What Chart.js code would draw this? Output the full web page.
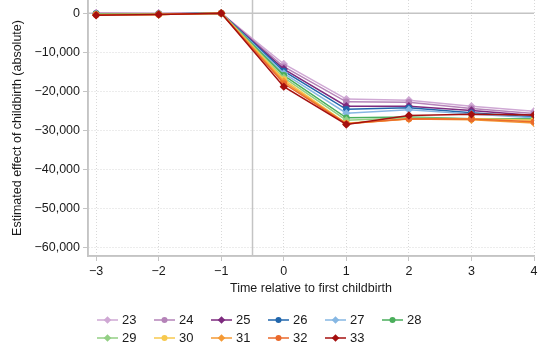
<!DOCTYPE html>
<html>
<head>
<meta charset="utf-8">
<script src="https://cdn.jsdelivr.net/npm/chart.js@4"></script>
<style>
  body { margin: 0; background: #fff; }
  #wrap { width: 538px; height: 349px; }
</style>
</head>
<body>
<div id="wrap"><canvas id="chart" width="538" height="349"></canvas></div>
<script>
// time relative to first childbirth
const times = [-3, -2, -1, 0, 1, 2, 3, 4];
const xTicks = [-3, -2, -1, 0, 1, 2, 3, 4];
const yTicks = [0, -10000, -20000, -30000, -40000, -50000, -60000];

// age at first birth
const ages = ['23', '24', '25', '26', '27', '28', '29', '30', '31', '32', '33'];

// estimated effect per age group
const age23 = [100, 0, 0, -13000, -22000, -22300, -23800, -25100];
const age24 = [0, -100, 0, -13700, -22700, -22800, -24400, -25700];
const age25 = [-100, -100, 0, -14300, -23800, -23800, -24900, -26200];
const age26 = [-100, -200, 0, -14800, -24600, -24200, -25500, -26600];
const age27 = [-200, -200, 0, -15400, -25600, -24700, -25800, -26800];
const age28 = [-200, -200, 0, -15900, -26800, -26600, -27000, -27000];
const age29 = [-300, -300, 0, -16500, -27400, -26800, -27100, -27200];
const age30 = [-300, -300, 0, -17000, -28200, -27000, -27000, -27400];
const age31 = [-400, -300, 0, -17500, -28300, -27100, -27300, -28100];
const age32 = [-400, -300, 0, -18000, -28300, -27000, -27100, -27800];
const age33 = [-500, -300, 0, -18800, -28500, -26200, -25900, -26100];
const series = [age23, age24, age25, age26, age27, age28, age29, age30, age31, age32, age33];

const colors = ['#cfa8d4', '#b583b8', '#7d2a7e', '#2166ac', '#86b7e3', '#4aae5b',
  '#93cf84', '#f7c94e', '#f59a35', '#ea6a2c', '#a5100f'];
const markers = ['rectRot', 'circle', 'rectRot', 'circle', 'rectRot', 'circle',
  'rectRot', 'circle', 'rectRot', 'circle', 'rectRot'];

const font = "'Liberation Sans', Arial, sans-serif";
const axisGrey = '#c4c4c4';

function fmt(v) {
  return v.toLocaleString('en-US').replace('-', '\u2212');
}

const datasets = ages.map((age, i) => ({
  label: age,
  data: times.map((t, j) => ({ x: t, y: series[i][j] })),
  borderColor: colors[i],
  backgroundColor: colors[i],
  borderWidth: 1.5,
  pointStyle: markers[i],
  pointRadius: markers[i] === 'circle' ? 3.3 : 4.2,
  pointBorderWidth: 0,
  order: ages.length - i
}));

// solid axis lines plus reference lines at y = 0 and x = -0.5
const refLines = {
  id: 'refLines',
  beforeDatasetsDraw(chart) {
    const { ctx, chartArea, scales } = chart;
    ctx.save();
    ctx.strokeStyle = axisGrey;
    ctx.lineWidth = 1.5;
    const y0 = scales.y.getPixelForValue(0);
    const xm = scales.x.getPixelForValue(-0.5);
    ctx.beginPath();
    ctx.moveTo(chartArea.left, y0);
    ctx.lineTo(chartArea.right, y0);
    ctx.moveTo(xm, chartArea.top);
    ctx.lineTo(xm, chartArea.bottom);
    ctx.moveTo(chartArea.left, chartArea.top);
    ctx.lineTo(chartArea.left, chartArea.bottom);
    ctx.lineTo(chartArea.right, chartArea.bottom);
    ctx.stroke();
    ctx.restore();
  }
};

// legend below the plot: line + marker + label, two rows of six
const bottomLegend = {
  id: 'bottomLegend',
  afterDraw(chart) {
    const ctx = chart.ctx;
    const cols = [97, 154, 211, 268, 325, 382];
    const rows = [320, 338];
    ctx.save();
    ages.forEach((age, i) => {
      const x = cols[i % 6];
      const y = rows[Math.floor(i / 6)];
      ctx.strokeStyle = colors[i];
      ctx.lineWidth = 1.5;
      ctx.beginPath();
      ctx.moveTo(x, y);
      ctx.lineTo(x + 21, y);
      ctx.stroke();
      ctx.fillStyle = colors[i];
      Chart.helpers.drawPoint(ctx, {
        pointStyle: markers[i],
        radius: markers[i] === 'circle' ? 3 : 3.8,
        borderWidth: 0
      }, x + 10.5, y);
      ctx.fillStyle = '#1a1a1a';
      ctx.font = '13px ' + font;
      ctx.textBaseline = 'middle';
      ctx.textAlign = 'left';
      ctx.fillText(age, x + 25, y + 0.5);
    });
    ctx.restore();
  }
};

const gridOpts = {
  color: '#d9d9d9',
  tickColor: axisGrey,
  tickLength: 5,
  tickWidth: 1,
  tickBorderDash: []
};

new Chart(document.getElementById('chart'), {
  type: 'line',
  data: { datasets: datasets },
  plugins: [refLines, bottomLegend],
  options: {
    responsive: false,
    devicePixelRatio: 1,
    animation: false,
    layout: { autoPadding: false, padding: { top: 0, right: 4, bottom: 51, left: 0 } },
    plugins: {
      legend: { display: false },
      tooltip: { enabled: false }
    },
    scales: {
      x: {
        type: 'linear',
        min: -3.13,
        max: 4,
        afterBuildTicks: s => { s.ticks = xTicks.map(v => ({ value: v })); },
        afterFit: s => { s.height = 42; s.paddingLeft = 0; s.paddingRight = 0; },
        border: { color: axisGrey, width: 1.5, dash: [1, 2] },
        grid: gridOpts,
        ticks: {
          padding: 3,
          color: '#1a1a1a',
          font: { family: font, size: 12.5 },
          callback: v => fmt(v)
        },
        title: {
          display: true,
          text: 'Time relative to first childbirth',
          color: '#1a1a1a',
          font: { family: font, size: 12.5 },
          padding: { top: 0, bottom: 2 }
        }
      },
      y: {
        min: -62200,
        max: 3400,
        afterBuildTicks: s => { s.ticks = yTicks.map(v => ({ value: v })); },
        afterFit: s => { s.width = 88; s.paddingTop = 0; s.paddingBottom = 0; },
        border: { color: axisGrey, width: 1.5, dash: [1, 2] },
        grid: gridOpts,
        ticks: {
          padding: 3,
          color: '#1a1a1a',
          font: { family: font, size: 12.5 },
          callback: v => fmt(v)
        },
        title: {
          display: true,
          text: 'Estimated effect of childbirth (absolute)',
          color: '#1a1a1a',
          font: { family: font, size: 12.5 },
          padding: { top: 10, bottom: 0 }
        }
      }
    }
  }
});
</script>
</body>
</html>
